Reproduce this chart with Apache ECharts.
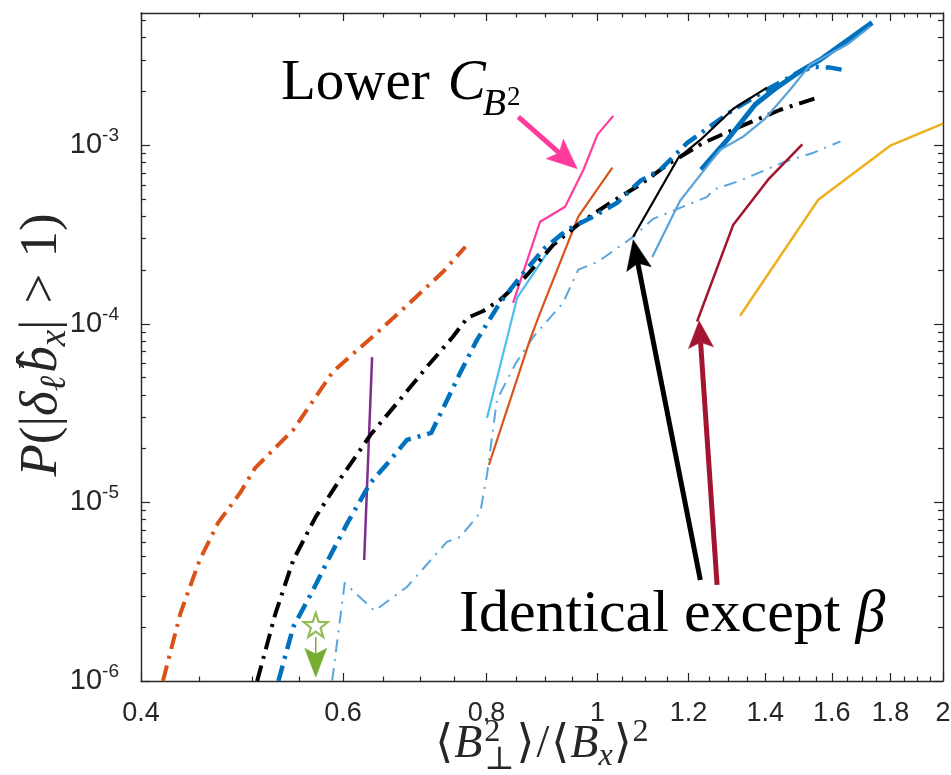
<!DOCTYPE html>
<html><head><meta charset="utf-8">
<script src="https://cdn.jsdelivr.net/npm/echarts@6/dist/echarts.min.js"></script>
<style>html,body{margin:0;padding:0;background:#fff}#c{width:951px;height:775px}</style>
</head><body><div id="c"></div>
<script>
// ---------- axis ticks ----------
const xTickValues = [0.4, 0.6, 0.8, 1, 1.2, 1.4, 1.6, 1.8, 2];
const xMinorTickValues = [0.45,0.5,0.55,0.65,0.7,0.75,0.85,0.9,0.95,1.05,1.1,1.15,1.25,1.3,1.35,1.45,1.5,1.55,1.65,1.7,1.75,1.85,1.9,1.95];
const yTickValues = [1e-6, 1e-5, 1e-4, 1e-3];
const yMinorTickValues = [2e-6,3e-6,4e-6,5e-6,6e-6,7e-6,8e-6,9e-6,
  2e-5,3e-5,4e-5,5e-5,6e-5,7e-5,8e-5,9e-5,
  2e-4,3e-4,4e-4,5e-4,6e-4,7e-4,8e-4,9e-4,
  2e-3,3e-3,4e-3,5e-3];

// ---------- series data [x, P] ----------
const redDashDot = [[0.418,1.0e-6],[0.433,2.4e-6],[0.450,4.76e-6],[0.467,7.7e-6],[0.488,1.13e-5],[0.503,1.56e-5],[0.543,2.55e-5],[0.588,5.4e-5],[0.637,8.5e-5],[0.686,1.31e-4],[0.733,1.95e-4],[0.767,2.7e-4]];
const blackDashDot = [[0.505,1e-6],[0.524,2.4e-6],[0.543,4.76e-6],[0.568,8.3e-6],[0.596,1.34e-5],[0.634,2.39e-5],[0.669,3.61e-5],[0.710,5.74e-5],[0.748,8.46e-5],[0.770,1.08e-4],[0.795,1.18e-4],[0.822,1.36e-4],[0.865,1.83e-4],[0.915,2.77e-4],[0.966,3.68e-4],[1.026,4.76e-4],[1.089,6.01e-4],[1.150,7.78e-4],[1.236,1.03e-3],[1.331,1.27e-3],[1.443,1.58e-3],[1.563,1.87e-3]];
const blueDashDot = [[0.527,1e-6],[0.543,2.01e-6],[0.565,3.23e-6],[0.581,4.64e-6],[0.606,7.78e-6],[0.634,1.29e-5],[0.660,1.73e-5],[0.682,2.24e-5],[0.716,2.45e-5],[0.736,3.52e-5],[0.759,5.32e-5],[0.785,8.13e-5],[0.822,1.31e-4],[0.856,1.83e-4],[0.900,2.67e-4],[0.941,3.36e-4],[0.991,3.98e-4],[1.040,4.76e-4],[1.089,6.3e-4],[1.134,7.29e-4],[1.197,1.03e-3],[1.313,1.58e-3],[1.405,2.05e-3],[1.50,2.58e-3],[1.542,2.75e-3],[1.595,2.72e-3],[1.654,2.61e-3]];
const lightBlueDashDot = [[0.587,1e-6],[0.602,3.54e-6],[0.639,2.47e-6],[0.682,3.36e-6],[0.739,6.01e-6],[0.759,6.41e-6],[0.790,8.74e-6],[0.801,1.43e-5],[0.817,3.75e-5],[0.848,5.97e-5],[0.879,8.46e-5],[0.933,1.31e-4],[0.962,2.01e-4],[1.0,2.22e-4],[1.074,3.07e-4],[1.118,3.87e-4],[1.246,5.14e-4],[1.261,5.63e-4],[1.331,6.33e-4],[1.449,7.98e-4],[1.542,9.08e-4],[1.628,1.05e-3]];
const purpleLine = [[0.626,4.76e-6],[0.636,6.51e-5]];
const pinkLine = [[0.844,1.31e-4],[0.891,3.73e-4],[0.937,4.52e-4],[0.972,7.29e-4],[1.0,1.15e-3],[1.032,1.46e-3]];
const orangeLine = [[0.804,1.62e-5],[0.873,8.13e-5],[0.891,1.15e-4],[0.962,3.98e-4],[1.030,7.48e-4]];
const cyanLine = [[0.801,2.97e-5],[0.851,1.40e-4],[0.929,3.24e-4]];
const blackLine = [[1.074,3.07e-4],[1.176,8.51e-4],[1.229,1.07e-3],[1.313,1.60e-3],[1.405,2.10e-3]];
const lightBlueLine = [[1.116,2.37e-4],[1.180,4.89e-4],[1.279,9.44e-4],[1.340,1.12e-3],[1.40,1.41e-3],[1.472,2.05e-3],[1.532,2.82e-3],[1.650,3.66e-3],[1.728,4.61e-3]];
const blueLine = [[1.231,7.29e-4],[1.297,1.07e-3],[1.372,1.69e-3],[1.428,2.07e-3],[1.50,2.58e-3],[1.563,3.01e-3],[1.735,4.86e-3]];
const darkRedLine = [[1.221,1.03e-4],[1.313,3.59e-4],[1.408,6.41e-4],[1.508,1.01e-3]];
const goldLine = [[1.331,1.11e-4],[1.557,4.95e-4],[1.799,9.94e-4],[2.0,1.32e-3]];
const greenStar = [[0.568,2.06e-6]];

// ---------- annotation arrows [tail, tip] in data space ----------
const arrowPink = [[0.853,1.44e-3],[0.960,7.39e-4]];
const arrowBlack = [[1.229,3.68e-6],[1.074,2.96e-4]];
const arrowDarkRed = [[1.271,3.45e-6],[1.226,1.04e-4]];
const arrowGreen = [[0.568,1.76e-6],[0.568,1.05e-6]];

const AX = '#262626';
const SANS = 'Liberation Sans, Arial, Helvetica, sans-serif';
const SERIF = 'Liberation Serif, Times New Roman, DejaVu Serif, serif';

const chart = echarts.init(document.getElementById('c'), null, {renderer: 'canvas'});

function lineSeries(name, data, color, width, dash, z) {
  return {
    name, type: 'line', data, xAxisIndex: 0, yAxisIndex: 0,
    showSymbol: false, symbol: 'none', animation: false, silent: true, z: z || 2,
    lineStyle: {color, width, type: dash || 'solid', cap: 'butt', join: 'round'}
  };
}
const DD = [16, 7, 3, 7];
const DDthin = [13, 7, 2, 7];

function xAxisDef(pos, major) {
  return {
    type: 'log', logBase: 10, min: 0.4, max: 2, position: pos,
    axisLine: {show: major, onZero: false, lineStyle: {color: AX, width: 1.4}},
    axisTick: {show: true, inside: true, length: major ? 8 : 4.5,
      customValues: major ? xTickValues : xMinorTickValues,
      lineStyle: {color: AX, width: 1.2}},
    axisLabel: {show: major && pos === 'bottom', customValues: xTickValues,
      formatter: v => String(Math.round(v * 10) / 10),
      fontFamily: SANS, fontSize: 27, color: AX, margin: 19},
    splitLine: {show: false}, minorTick: {show: false}, minorSplitLine: {show: false}
  };
}
function yAxisDef(pos, major) {
  return {
    type: 'log', logBase: 10, min: 1e-6, max: 5.5e-3, position: pos,
    axisLine: {show: major, onZero: false, lineStyle: {color: AX, width: 1.4}},
    axisTick: {show: true, inside: true, length: major ? 9 : 5,
      customValues: major ? yTickValues : yMinorTickValues,
      lineStyle: {color: AX, width: 1.2}},
    axisLabel: {show: major && pos === 'left', customValues: yTickValues,
      formatter: v => '{b|10}{s|' + Math.round(Math.log10(v)) + '}',
      margin: 22,
      rich: {
        b: {fontFamily: SANS, fontSize: 29, color: AX, lineHeight: 38},
        s: {fontFamily: SANS, fontSize: 19, color: AX, verticalAlign: 'top'}
      }},
    splitLine: {show: false}, minorTick: {show: false}, minorSplitLine: {show: false}
  };
}

const starPath = 'path://M0,-10 L2.35,-3.24 9.51,-3.09 3.8,1.24 5.88,8.09 0,4 -5.88,8.09 -3.8,1.24 -9.51,-3.09 -2.35,-3.24Z';

chart.setOption({
  animation: false,
  backgroundColor: '#fff',
  textStyle: {fontFamily: SANS},
  grid: {left: 141, right: 8, top: 13, bottom: 94, containLabel: false, outerBoundsMode: 'none'},
  xAxis: [xAxisDef('bottom', true), xAxisDef('bottom', false), xAxisDef('top', true), xAxisDef('top', false)],
  yAxis: [yAxisDef('left', true), yAxisDef('left', false), yAxisDef('right', true), yAxisDef('right', false)],
  series: [
    lineSeries('redDashDot', redDashDot, '#D95319', 4, DD, 3),
    lineSeries('lightBlueDashDot', lightBlueDashDot, '#5AA5DC', 2, DDthin, 2),
    lineSeries('purple', purpleLine, '#7E2F8E', 2.5, null, 3),
    lineSeries('pink', pinkLine, '#FF3C9E', 2.2, null, 3),
    lineSeries('orange', orangeLine, '#D95319', 2.2, null, 3),
    lineSeries('cyan', cyanLine, '#4DBEEE', 2.2, null, 3),
    lineSeries('blackDashDot', blackDashDot, '#000000', 4, DD, 4),
    lineSeries('blueDashDot', blueDashDot, '#0072BD', 4.5, DD, 4),
    lineSeries('black', blackLine, '#000000', 2.2, null, 5),
    lineSeries('blue', blueLine, '#0072BD', 5, null, 5),
    lineSeries('lightBlue', lightBlueLine, '#5BA4D9', 2.2, null, 6),
    lineSeries('darkRed', darkRedLine, '#A2142F', 2.5, null, 5),
    lineSeries('gold', goldLine, '#EDB120', 2.5, null, 5),
    {name: 'star', type: 'scatter', data: greenStar, xAxisIndex: 0, yAxisIndex: 0,
      symbol: starPath, symbolSize: 24, silent: true, z: 8,
      itemStyle: {color: '#ffffff', borderColor: '#77AC30', borderWidth: 2.2}}
  ]
});

// ---------- annotations ----------
const toPx = p => chart.convertToPixel({xAxisIndex: 0, yAxisIndex: 0}, p);
function arrow(id, pts, color, width, hl, hw) {
  const T = toPx(pts[0]), P = toPx(pts[1]);
  const dx = P[0] - T[0], dy = P[1] - T[1], L = Math.hypot(dx, dy);
  const ux = dx / L, uy = dy / L, nx = -uy, ny = ux;
  const bx = P[0] - ux * hl, by = P[1] - uy * hl;
  const mx = P[0] - ux * hl * 0.8, my = P[1] - uy * hl * 0.8;
  return [
    {type: 'line', id: id + 's', silent: true, z: 20,
      shape: {x1: T[0], y1: T[1], x2: mx, y2: my},
      style: {stroke: color, lineWidth: width, lineCap: 'butt'}},
    {type: 'polygon', id: id + 'h', silent: true, z: 21,
      shape: {points: [[P[0], P[1]], [bx + nx * hw / 2, by + ny * hw / 2], [mx, my], [bx - nx * hw / 2, by - ny * hw / 2]]},
      style: {fill: color, stroke: color, lineWidth: 0.5}}
  ];
}

const mctx = document.createElement('canvas').getContext('2d');
function fnt(p) { return (p.it ? 'italic ' : '') + p.s + 'px ' + (p.f || SERIF); }
function mathRow(pieces) {
  let x = 0, start = 0; const out = [];
  pieces.forEach(p => {
    mctx.font = fnt(p);
    const w = mctx.measureText(p.t).width;
    let px;
    if (p.stack) { px = start + (p.dx || 0); x = Math.max(x, px + w); }
    else { px = x + (p.dx || 0); start = px; x = px + w; }
    out.push({p, px, w});
  });
  return {items: out, width: x};
}
function rowElems(row, ox, oy, color) {
  return row.items.map(({p, px}) => ({
    type: 'text', silent: true, z: 30, x: ox + px, y: oy + (p.dy || 0) - 0.34 * p.s,
    style: {text: p.t, font: fnt(p), fill: color || '#000', align: 'left', verticalAlign: 'middle',
      textAlign: 'left', textVerticalAlign: 'middle'}
  }));
}

const els = [];
els.push(...arrow('ap', arrowPink, '#FF3C9E', 5, 30, 26));
els.push(...arrow('ab', arrowBlack, '#000000', 5, 30, 25));
els.push(...arrow('ar', arrowDarkRed, '#A2142F', 5, 27, 25));
els.push(...arrow('ag', arrowGreen, '#77AC30', 1.5, 29, 22));

// "Lower C_{B^2}"
const lower = mathRow([
  {t: 'Lower', s: 57},
  {t: 'C', s: 57, it: true, dx: 18},
  {t: 'B', s: 38, it: true, dy: 15, dx: -3},
  {t: '2', s: 27, dy: 4, dx: 1}
]);
els.push(...rowElems(lower, 281, 103, '#000'));
// "Identical except β"
const ident = mathRow([
  {t: 'Identical except ', s: 60},
  {t: 'β', s: 60, it: true}
]);
els.push(...rowElems(ident, 459, 636, '#000'));

// x-axis title  <B_perp^2>/<B_x>^2
const XS = 46;
const xt = mathRow([
  {t: '⟨', s: XS},
  {t: 'B', s: XS, it: true, dx: 1},
  {t: '2', s: XS * 0.7, dy: -XS * 0.38, dx: 2},
  {t: '⊥', s: XS * 0.7, dy: XS * 0.22, stack: true},
  {t: '⟩', s: XS, dx: 2},
  {t: '/', s: XS, dx: 2},
  {t: '⟨', s: XS, dx: 2},
  {t: 'B', s: XS, it: true, dx: 1},
  {t: 'x', s: XS * 0.7, it: true, dy: XS * 0.15},
  {t: '⟩', s: XS, dx: 1},
  {t: '2', s: XS * 0.7, dy: -XS * 0.38, dx: 1}
]);
els.push(...rowElems(xt, 542 - xt.width / 2, 761, '#262626'));

// y-axis title P(|δ_ℓ b̂_x| > 1), rotated
const YS = 53;
const yt = mathRow([
  {t: 'P', s: YS, it: true},
  {t: '(|', s: YS},
  {t: 'δ', s: YS, it: true},
  {t: 'ℓ', s: YS * 0.7, it: true, dy: YS * 0.15},
  {t: 'b', s: YS, it: true, dx: 3},
  {t: 'ˆ', s: YS, stack: true, dx: YS * 0.08, dy: -YS * 0.05},
  {t: 'x', s: YS * 0.7, it: true, dy: YS * 0.15},
  {t: '|', s: YS},
  {t: '>', s: YS, dx: YS * 0.3},
  {t: '1)', s: YS, dx: YS * 0.3}
]);
els.push({type: 'group', x: 60, y: 345, rotation: Math.PI / 2, silent: true,
  children: rowElems(yt, -yt.width / 2, 0, '#262626')});

chart.setOption({graphic: {elements: els}});
</script>
</body></html>
